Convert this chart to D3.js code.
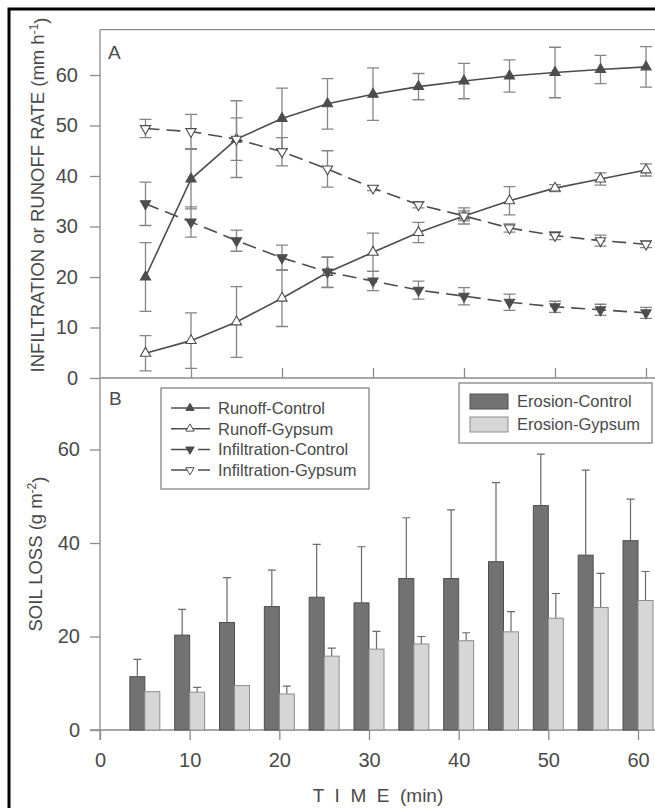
<!DOCTYPE html>
<html>
<head>
<meta charset="utf-8">
<script src="https://cdn.jsdelivr.net/npm/d3@7"></script>
<style>
  body { margin: 0; background: #fff; }
  svg { display: block; font-family: "Liberation Sans", Arial, Helvetica, sans-serif; }
</style>
</head>
<body>
<script>
'use strict';

// time points (min)
const time = [5, 10, 15, 20, 25, 30, 35, 40, 45, 50, 55, 60]

// panel A: infiltration / runoff rate (mm h-1)
const runoffControl    = [20.0, 39.4, 47.3, 51.4, 54.3, 56.2, 57.7, 58.8, 59.8, 60.5, 61.1, 61.6]
const runoffControlErr = [6.8, 5.9, 7.6, 6.0, 5.0, 5.2, 2.6, 3.5, 3.2, 5.0, 2.8, 4.0]
const runoffGypsum     = [4.9, 7.4, 11.1, 15.8, 20.9, 24.9, 28.8, 32.1, 35.1, 37.6, 39.4, 41.2]
const runoffGypsumErr  = [3.5, 5.5, 7.0, 5.6, 3.0, 3.8, 2.0, 1.6, 2.8, 0.7, 1.2, 1.2]
const infilControl     = [34.5, 30.9, 27.2, 23.8, 21.0, 19.2, 17.4, 16.2, 15.0, 14.1, 13.5, 12.9]
const infilControlErr  = [4.3, 3.0, 2.1, 2.5, 3.0, 1.9, 1.8, 1.7, 1.6, 1.1, 1.1, 1.1]
const infilGypsum      = [49.4, 48.8, 47.3, 44.8, 41.4, 37.6, 34.3, 32.1, 29.7, 28.2, 27.2, 26.5]
const infilGypsumErr   = [1.8, 3.4, 4.2, 2.8, 3.6, 0.5, 0.6, 1.0, 0.8, 0.8, 1.1, 0.7]

// panel B: soil loss (g m-2)
const erosionControl    = [11.4, 20.3, 23.0, 26.4, 28.4, 27.2, 32.4, 32.4, 36.0, 48.0, 37.4, 40.5]
const erosionControlErr = [3.7, 5.5, 9.6, 7.8, 11.3, 12.0, 13.0, 14.7, 16.9, 11.0, 18.2, 8.9]
const erosionGypsum     = [8.2, 8.1, 9.5, 7.7, 15.8, 17.3, 18.4, 19.1, 21.0, 23.9, 26.2, 27.7]
const erosionGypsumErr  = [0, 1.0, 0, 1.7, 1.7, 3.8, 1.6, 1.7, 4.3, 5.3, 7.3, 6.2]

// ticks
const xTicks = [0, 10, 20, 30, 40, 50, 60]
const yTicksA = [0, 10, 20, 30, 40, 50, 60]
const yTicksB = [0, 20, 40, 60]

const m = { width: 655, height: 808 }
const ink = '#4d4d4d'
const frame = '#8c8c8c'
const txt = '#4a4a4a'

const svg = d3.select('body').append('svg')
  .attr('width', m.width)
  .attr('height', m.height)

svg.append('rect').attr('width', m.width).attr('height', m.height).attr('fill', '#fff')

// scanned page border (top + left only)
svg.append('path')
  .attr('d', 'M9,' + m.height + 'V9H' + m.width)
  .attr('fill', 'none')
  .attr('stroke', '#000')
  .attr('stroke-width', 3)

// scales
const xA = d3.scaleLinear().domain([0, 60]).range([100, 646])
const yA = d3.scaleLinear().domain([0, 60]).range([378, 75])
const xB = d3.scaleLinear().domain([0, 60]).range([100, 638])
const yB = d3.scaleLinear().domain([0, 60]).range([730, 449.5])

// ---------- panel A frame + axes ----------
svg.append('line')
  .attr('x1', xA(0)).attr('x2', m.width)
  .attr('y1', yA(69)).attr('y2', yA(69))
  .attr('stroke', frame).attr('stroke-width', 1.3)
svg.append('line')
  .attr('x1', xA(0)).attr('x2', xA(0))
  .attr('y1', yA(69)).attr('y2', yB(0) + 10)
  .attr('stroke', frame).attr('stroke-width', 1.3)

let yAxisA = svg.append('g')
  .attr('transform', 'translate(' + xA(0) + ',0)')
  .call(d3.axisLeft(yA).tickValues(yTicksA).tickSize(10).tickPadding(12))
styleAxis(yAxisA)

// inward ticks on the shared line between panels
let xAxisA = svg.append('g')
  .attr('transform', 'translate(0,' + yA(0) + ')')
  .call(d3.axisBottom(xA).tickValues(xTicks.slice(1)).tickSize(-10).tickFormat(''))
styleAxis(xAxisA)
svg.append('line')
  .attr('x1', xA(0)).attr('x2', m.width)
  .attr('y1', yA(0)).attr('y2', yA(0))
  .attr('stroke', frame).attr('stroke-width', 1.3)

// ---------- panel B axes ----------
let yAxisB = svg.append('g')
  .attr('transform', 'translate(' + xB(0) + ',0)')
  .call(d3.axisLeft(yB).tickValues(yTicksB).tickSize(10).tickPadding(10))
styleAxis(yAxisB)

let xAxisB = svg.append('g')
  .attr('transform', 'translate(0,' + yB(0) + ')')
  .call(d3.axisBottom(xB).tickValues(xTicks).tickSize(10).tickPadding(13))
styleAxis(xAxisB)
svg.append('line')
  .attr('x1', xB(0) - 10).attr('x2', m.width)
  .attr('y1', yB(0)).attr('y2', yB(0))
  .attr('stroke', frame).attr('stroke-width', 1.3)

function styleAxis(g) {
  g.select('.domain').remove()
  g.selectAll('.tick line').attr('stroke', frame).attr('stroke-width', 1.3)
  g.selectAll('.tick text')
    .attr('fill', txt)
    .style('font-size', '20px')
    .style('font-family', '"Liberation Sans", Arial, sans-serif')
}

// ---------- panel B bars ----------
const barW = 15
const bars = time.map((t, i) => ({
  t: t,
  c: erosionControl[i], ce: erosionControlErr[i],
  g: erosionGypsum[i], ge: erosionGypsumErr[i]
}))

let barG = svg.append('g')
barG.selectAll('.errC')
  .data(bars)
  .enter().append('path')
    .attr('d', d => {
      let cx = xB(d.t) - barW / 2
      return 'M' + cx + ',' + yB(d.c) + 'V' + yB(d.c + d.ce) + 'M' + (cx - 4) + ',' + yB(d.c + d.ce) + 'H' + (cx + 4)
    })
    .attr('stroke', '#6a6a6a').attr('stroke-width', 1.2).attr('fill', 'none')
barG.selectAll('.errG')
  .data(bars.filter(d => d.ge > 0))
  .enter().append('path')
    .attr('d', d => {
      let cx = xB(d.t) + barW / 2
      return 'M' + cx + ',' + yB(d.g) + 'V' + yB(d.g + d.ge) + 'M' + (cx - 4) + ',' + yB(d.g + d.ge) + 'H' + (cx + 4)
    })
    .attr('stroke', '#6a6a6a').attr('stroke-width', 1.2).attr('fill', 'none')

barG.selectAll('.barC')
  .data(bars)
  .enter().append('rect')
    .attr('x', d => xB(d.t) - barW)
    .attr('y', d => yB(d.c))
    .attr('width', barW)
    .attr('height', d => yB(0) - yB(d.c))
    .attr('fill', '#727272')
    .attr('stroke', '#4f4f4f')
    .attr('stroke-width', 1)
barG.selectAll('.barG')
  .data(bars)
  .enter().append('rect')
    .attr('x', d => xB(d.t))
    .attr('y', d => yB(d.g))
    .attr('width', barW)
    .attr('height', d => yB(0) - yB(d.g))
    .attr('fill', '#d6d6d6')
    .attr('stroke', '#8e8e8e')
    .attr('stroke-width', 1)

// ---------- panel A lines ----------
const series = [
  { name: 'Runoff-Control', v: runoffControl, e: runoffControlErr, dash: null, down: false, filled: true },
  { name: 'Runoff-Gypsum', v: runoffGypsum, e: runoffGypsumErr, dash: null, down: false, filled: false },
  { name: 'Infiltration-Control', v: infilControl, e: infilControlErr, dash: '14,7', down: true, filled: true },
  { name: 'Infiltration-Gypsum', v: infilGypsum, e: infilGypsumErr, dash: '14,7', down: true, filled: false }
]

const tri = d3.symbol().type(d3.symbolTriangle).size(45)

series.forEach(s => {
  let pts = time.map((t, i) => ({ t: t, v: s.v[i], e: s.e[i] }))
  let g = svg.append('g')

  g.selectAll('path.err')
    .data(pts)
    .enter().append('path')
      .attr('class', 'err')
      .attr('d', d => {
        let x = xA(d.t)
        let y1 = yA(d.v + d.e)
        let y2 = yA(d.v - d.e)
        return 'M' + x + ',' + y1 + 'V' + y2 +
          'M' + (x - 6) + ',' + y1 + 'H' + (x + 6) +
          'M' + (x - 6) + ',' + y2 + 'H' + (x + 6)
      })
      .attr('stroke', '#858585').attr('stroke-width', 1.3).attr('fill', 'none')

  g.append('path')
    .datum(pts)
    .attr('d', d3.line().x(d => xA(d.t)).y(d => yA(d.v)))
    .attr('fill', 'none')
    .attr('stroke', ink)
    .attr('stroke-width', 1.6)
    .attr('stroke-dasharray', s.dash)

  g.selectAll('path.mk')
    .data(pts)
    .enter().append('path')
      .attr('class', 'mk')
      .attr('d', tri)
      .attr('transform', d => 'translate(' + xA(d.t) + ',' + yA(d.v) + ')' + (s.down ? 'rotate(180)' : ''))
      .attr('fill', s.filled ? ink : '#fff')
      .attr('stroke', ink)
      .attr('stroke-width', 1.1)
})

// ---------- legends ----------
let leg1 = svg.append('g')
leg1.append('rect')
  .attr('x', 161).attr('y', 388).attr('width', 208).attr('height', 101)
  .attr('fill', '#fff').attr('stroke', '#7a7a7a').attr('stroke-width', 1.2)
series.forEach((s, i) => {
  let y = 408 + i * 20.7
  leg1.append('line')
    .attr('x1', 171).attr('x2', 210).attr('y1', y).attr('y2', y)
    .attr('stroke', ink).attr('stroke-width', 1.5)
    .attr('stroke-dasharray', s.dash ? '18,9,12' : null)
  leg1.append('path')
    .attr('d', d3.symbol().type(d3.symbolTriangle).size(30))
    .attr('transform', 'translate(190,' + y + ')' + (s.down ? 'rotate(180)' : ''))
    .attr('fill', s.filled ? ink : '#fff')
    .attr('stroke', ink).attr('stroke-width', 1)
  leg1.append('text')
    .attr('x', 218).attr('y', y).attr('dy', '0.36em')
    .attr('fill', txt)
    .style('font-size', '16.5px')
    .text(s.name)
})

const barLegend = ['Erosion-Control', 'Erosion-Gypsum']
const barFill = ['#727272', '#d6d6d6']
const barStroke = ['#4f4f4f', '#8e8e8e']
let leg2 = svg.append('g')
leg2.append('rect')
  .attr('x', 459).attr('y', 383).attr('width', 193).attr('height', 60)
  .attr('fill', '#fff').attr('stroke', '#7a7a7a').attr('stroke-width', 1.2)
barLegend.forEach((name, i) => {
  leg2.append('rect')
    .attr('x', 470).attr('y', 394 + i * 23).attr('width', 38).attr('height', 15)
    .attr('fill', barFill[i]).attr('stroke', barStroke[i])
  leg2.append('text')
    .attr('x', 517).attr('y', 401.5 + i * 23).attr('dy', '0.36em')
    .attr('fill', txt)
    .style('font-size', '16.5px')
    .text(name)
})

// ---------- labels ----------
svg.append('text').attr('x', 108).attr('y', 59)
  .attr('fill', txt).style('font-size', '19px').text('A')
svg.append('text').attr('x', 109).attr('y', 405)
  .attr('fill', txt).style('font-size', '19px').text('B')

let yTitleA = svg.append('text')
  .attr('transform', 'translate(44,195)rotate(-90)')
  .attr('text-anchor', 'middle')
  .attr('fill', txt)
  .style('font-size', '18.5px')
yTitleA.append('tspan').text('INFILTRATION or RUNOFF RATE (mm h')
yTitleA.append('tspan').attr('dy', '-0.5em').style('font-size', '12px').text('-1')
yTitleA.append('tspan').attr('dy', '0.5em').text(')')

let yTitleB = svg.append('text')
  .attr('transform', 'translate(42,554)rotate(-90)')
  .attr('text-anchor', 'middle')
  .attr('fill', txt)
  .style('font-size', '18.5px')
yTitleB.append('tspan').text('SOIL LOSS (g m')
yTitleB.append('tspan').attr('dy', '-0.5em').style('font-size', '12px').text('-2')
yTitleB.append('tspan').attr('dy', '0.5em').text(')')

svg.append('text')
  .attr('x', 378).attr('y', 802)
  .attr('text-anchor', 'middle')
  .attr('fill', txt)
  .style('font-size', '19px')
  .style('white-space', 'pre')
  .text('T  I  M  E  (min)')
</script>
</body>
</html>
